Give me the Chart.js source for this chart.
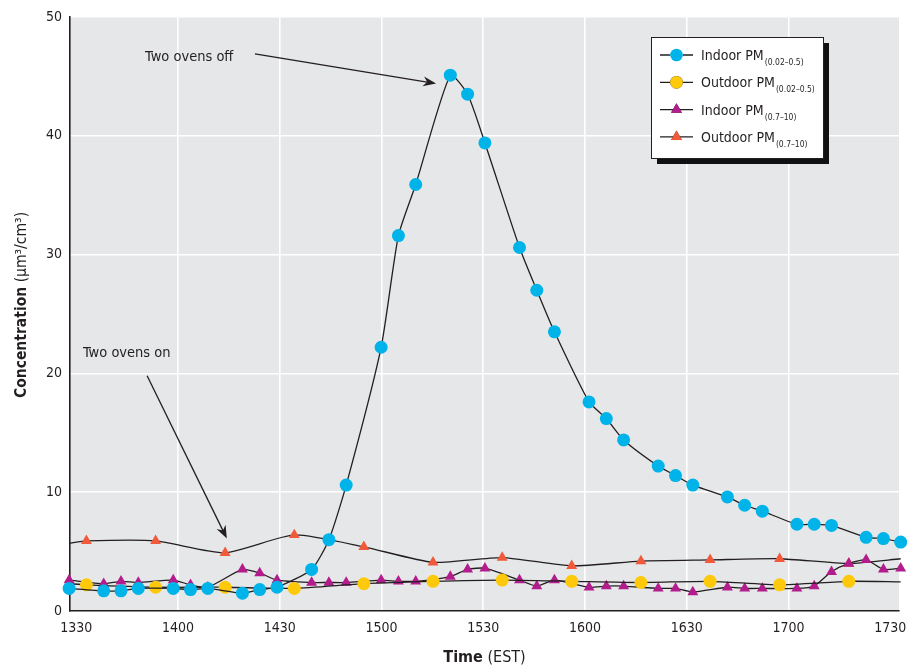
<!DOCTYPE html>
<html>
<head>
<meta charset="utf-8">
<title>Indoor and outdoor particle concentration</title>
<script src="https://cdn.jsdelivr.net/npm/chart.js@4.4.1/dist/chart.umd.min.js"></script>
<style>
    html, body { margin: 0; padding: 0; background: #fff; }
    canvas { display: block; }
</style>
</head>
<body>
<canvas id="pmChart" width="907" height="668"></canvas>
<script>
'use strict';

// sample times, minutes after 1330 EST (instruments alternate indoor/outdoor)
const sampleTimes = [
    -2.1, 3.0, 8.1, 13.2, 18.3, 23.4, 28.6, 33.7, 38.8, 43.9,
    49.0, 54.1, 59.2, 64.3, 69.4, 74.5, 79.6, 84.8, 89.9, 95.0,
    100.1, 105.2, 110.3, 115.4, 120.5, 125.6, 130.7, 135.8, 141.0, 146.1,
    151.2, 156.3, 161.4, 166.5, 171.6, 176.7, 181.8, 186.9, 192.0, 197.1,
    202.3, 207.4, 212.5, 217.6, 222.7, 227.8, 232.9, 238.0, 243.1
];
const tickMinutes = [0, 30, 60, 90, 120, 150, 180, 210, 240];
const tickLabels = ['1330', '1400', '1430', '1500', '1530', '1600', '1630', '1700', '1730'];

// concentration, um3/cm3 (null = no sample at that time)
const indoorFine = [
    1.9, null, 1.7, 1.7, 1.9, null, 1.9, 1.8, 1.9, null,
    1.5, 1.8, 2.0, null, 3.5, 6.0, 10.6, null, 22.2, 31.6,
    35.9, null, 45.1, 43.5, 39.4, null, 30.6, 27.0, 23.5, null,
    17.6, 16.2, 14.4, null, 12.2, 11.4, 10.6, null, 9.6, 8.9,
    8.4, null, 7.3, 7.3, 7.2, null, 6.2, 6.1, 5.8
];
const outdoorFine = [
    2.3, 2.2, null, null, null, 2.0, null, null, null, 2.0,
    null, null, null, 1.9, null, null, null, 2.3, null, null,
    null, 2.5, null, null, null, 2.6, null, null, null, 2.5,
    null, null, null, 2.4, null, null, null, 2.5, null, null,
    null, 2.2, null, null, null, 2.5, null, null, 2.45
];
const indoorCoarse = [
    2.6, null, 2.3, 2.5, 2.4, null, 2.6, 2.2, 2.0, null,
    3.5, 3.2, 2.6, null, 2.4, 2.4, 2.4, null, 2.6, 2.5,
    2.5, null, 2.9, 3.5, 3.6, null, 2.6, 2.1, 2.6, null,
    2.0, 2.1, 2.1, null, 1.9, 1.9, 1.6, null, 2.0, 1.9,
    1.9, null, 1.9, 2.1, 3.3, 4.0, 4.3, 3.5, 3.6
];
const outdoorCoarse = [
    5.7, 5.9, null, null, null, 5.9, null, null, null, 4.9,
    null, null, null, 6.4, null, null, null, 5.4, null, null,
    null, 4.1, null, null, null, 4.5, null, null, null, 3.8,
    null, null, null, 4.2, null, null, null, 4.3, null, null,
    null, 4.4, null, null, null, 4.0, null, null, 4.4
];

const seriesNames = ['Indoor PM', 'Outdoor PM', 'Indoor PM', 'Outdoor PM'];
const seriesSizes = ['(0.02\u20130.5)', '(0.02\u20130.5)', '(0.7\u201310)', '(0.7\u201310)'];
const seriesColors = ['#00b3e8', '#fdc90a', '#b31c8c', '#f05a3b'];
const seriesShapes = ['circle', 'circle', 'triangle', 'triangle'];

const FONT = "'Liberation Sans Narrow', 'Arial Narrow', 'DejaVu Sans Condensed', sans-serif";
const INK = '#231f20';

Chart.defaults.font.family = FONT;
Chart.defaults.color = INK;

function toPoints(values) {
    return sampleTimes
        .map((t, i) => ({'x': t, 'y': values[i]}))
        .filter(p => p.y !== null);
}

// outdoor traces run to the plot edges, but markers only sit on sampled points
function markerOnly(radius) {
    return ctx => (ctx.dataIndex === 0 || ctx.dataIndex === ctx.dataset.data.length - 1) ? 0 : radius;
}

function series(i, values, radius) {
    return {
        'label': seriesNames[i] + seriesSizes[i],
        'data': toPoints(values),
        'borderColor': INK,
        'borderWidth': 1.3,
        'backgroundColor': seriesColors[i],
        'pointBackgroundColor': seriesColors[i],
        'pointBorderWidth': 0,
        'pointStyle': seriesShapes[i],
        'pointRadius': radius,
        'pointHoverRadius': radius,
        'tension': 0.2,
        'clip': false
    };
}

const plotBackground = {
    'id': 'plotBackground',
    beforeDraw(chart) {
        const area = chart.chartArea;
        const ctx = chart.ctx;
        ctx.save();
        ctx.fillStyle = '#e6e7e8';
        ctx.fillRect(area.left, area.top, area.right - area.left, area.bottom - area.top);
        ctx.restore();
    }
};

function drawArrow(ctx, x1, y1, x2, y2) {
    const ang = Math.atan2(y2 - y1, x2 - x1);
    ctx.beginPath();
    ctx.moveTo(x1, y1);
    ctx.lineTo(x2 - 6 * Math.cos(ang), y2 - 6 * Math.sin(ang));
    ctx.lineWidth = 1.3;
    ctx.strokeStyle = INK;
    ctx.stroke();
    ctx.save();
    ctx.translate(x2, y2);
    ctx.rotate(ang);
    ctx.beginPath();
    ctx.moveTo(0, 0);
    ctx.lineTo(-13, -5);
    ctx.lineTo(-9, 0);
    ctx.lineTo(-13, 5);
    ctx.closePath();
    ctx.fillStyle = INK;
    ctx.fill();
    ctx.restore();
}

// notes placed in data units: text anchor, arrow start, arrow tip
const notes = [
    {'text': 'Two ovens off', 'at': [20.3, 46.6], 'from': [52.7, 46.9], 'to': [106.1, 44.4]},
    {'text': 'Two ovens on', 'at': [2.0, 21.7], 'from': [20.9, 19.8], 'to': [44.4, 6.1]}
];

const notesPlugin = {
    'id': 'notes',
    afterDatasetsDraw(chart) {
        const ctx = chart.ctx;
        const xs = chart.scales.x;
        const ys = chart.scales.y;
        ctx.save();
        ctx.font = '14.5px ' + FONT;
        ctx.fillStyle = INK;
        ctx.textBaseline = 'middle';
        notes.forEach(n => {
            ctx.fillText(n.text, xs.getPixelForValue(n.at[0]), ys.getPixelForValue(n.at[1]));
            drawArrow(ctx,
                xs.getPixelForValue(n.from[0]), ys.getPixelForValue(n.from[1]),
                xs.getPixelForValue(n.to[0]), ys.getPixelForValue(n.to[1]));
        });
        ctx.restore();
    }
};

function drawMixed(ctx, parts, x, y) {
    // parts: [[font, text], ...] drawn centred on x
    let total = 0;
    parts.forEach(p => { ctx.font = p[0]; total += ctx.measureText(p[1]).width; });
    let cx = x - total / 2;
    parts.forEach(p => {
        ctx.font = p[0];
        ctx.fillText(p[1], cx, y);
        cx += ctx.measureText(p[1]).width;
    });
}

const axisTitles = {
    'id': 'axisTitles',
    afterDraw(chart) {
        const ctx = chart.ctx;
        const area = chart.chartArea;
        ctx.save();
        ctx.fillStyle = INK;
        ctx.textBaseline = 'middle';
        ctx.textAlign = 'left';
        drawMixed(ctx, [['bold 16px ' + FONT, 'Time'], ['16px ' + FONT, ' (EST)']],
            (area.left + area.right) / 2, chart.height - 10);
        ctx.translate(22, (area.top + area.bottom) / 2 - 9);
        ctx.rotate(-Math.PI / 2);
        drawMixed(ctx, [['bold 15.5px ' + FONT, 'Concentration'], ['15.5px ' + FONT, ' (\u00b5m\u00b3/cm\u00b3)']], 0, 0);
        ctx.restore();
    }
};

const boxLegend = {
    'id': 'boxLegend',
    afterDraw(chart) {
        const ctx = chart.ctx;
        const area = chart.chartArea;
        const left = area.right - 248;
        const top = area.top + 20;
        const w = 172;
        const h = 121;
        ctx.save();
        ctx.fillStyle = '#111';
        ctx.fillRect(left + 6, top + 6, w, h);
        ctx.fillStyle = '#fff';
        ctx.fillRect(left, top, w, h);
        ctx.strokeStyle = INK;
        ctx.lineWidth = 1;
        ctx.strokeRect(left + 0.5, top + 0.5, w, h);
        seriesNames.forEach((name, i) => {
            const y = top + 18 + i * 27.3;
            ctx.beginPath();
            ctx.moveTo(left + 9, y);
            ctx.lineTo(left + 42, y);
            ctx.strokeStyle = INK;
            ctx.lineWidth = 1.3;
            ctx.stroke();
            Chart.helpers.drawPoint(ctx, {
                'pointStyle': seriesShapes[i],
                'radius': 6.3,
                'borderWidth': 0
            }, left + 25.5, y);
            ctx.fillStyle = seriesColors[i];
            ctx.fill();
            ctx.fillStyle = INK;
            ctx.textBaseline = 'alphabetic';
            ctx.font = '14px ' + FONT;
            ctx.fillText(name, left + 50, y + 5);
            const nw = ctx.measureText(name).width;
            ctx.font = '8.5px ' + FONT;
            ctx.fillText(seriesSizes[i], left + 50 + nw + 1, y + 10);
        });
        ctx.restore();
    }
};

const ctx = document.getElementById('pmChart').getContext('2d');
const chart = new Chart(ctx, {
    'type': 'line',
    'data': {
        'datasets': [
            series(0, indoorFine, 6.5),
            series(1, outdoorFine, markerOnly(6.5)),
            series(2, indoorCoarse, 6.3),
            series(3, outdoorCoarse, markerOnly(6.3))
        ]
    },
    'options': {
        'responsive': false,
        'animation': false,
        'devicePixelRatio': 1,
        'layout': {'padding': {'top': 17, 'right': 8, 'bottom': 0, 'left': 0}},
        'plugins': {
            'legend': {'display': false},
            'tooltip': {'enabled': false}
        },
        'scales': {
            'x': {
                'type': 'linear',
                'min': -1.84,
                'max': 242.6,
                'afterFit': scale => {
                    scale.height = 57;
                    scale.paddingLeft = 0;
                    scale.paddingRight = 0;
                },
                'afterBuildTicks': axis => { axis.ticks = tickMinutes.map(v => ({'value': v})); },
                'ticks': {
                    'font': {'size': 14},
                    'color': INK,
                    'padding': 9,
                    'maxRotation': 0,
                    'callback': value => tickLabels[tickMinutes.indexOf(value)]
                },
                'grid': {
                    'color': c => (c.tick && (c.tick.value === 0 || c.tick.value === 240)) ? 'rgba(0,0,0,0)' : '#ffffff',
                    'lineWidth': 1.6,
                    'drawTicks': false
                },
                'border': {'color': INK, 'width': 1.6}
            },
            'y': {
                'min': 0,
                'max': 50,
                'afterFit': scale => { scale.width = 70; },
                'ticks': {
                    'stepSize': 10,
                    'font': {'size': 14},
                    'color': INK,
                    'padding': 8
                },
                'grid': {
                    'color': '#ffffff',
                    'lineWidth': 1.6,
                    'drawTicks': false
                },
                'border': {'color': INK, 'width': 1.6}
            }
        }
    },
    'plugins': [plotBackground, notesPlugin, axisTitles, boxLegend]
});
</script>
</body>
</html>
